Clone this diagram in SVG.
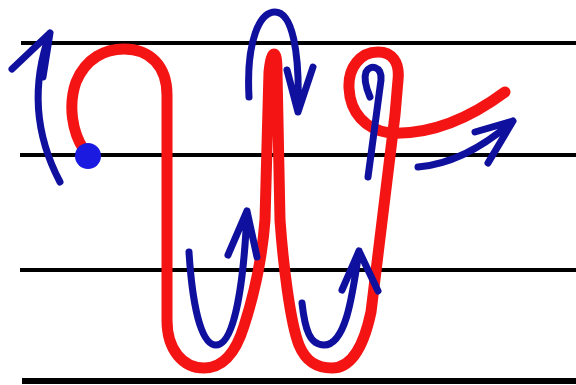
<svg xmlns="http://www.w3.org/2000/svg" width="576" height="385" viewBox="0 0 576 385">
<style>
.rule{stroke:#000;stroke-width:4;fill:none}
.red{stroke:#f41414;stroke-width:11;fill:none;stroke-linecap:round;stroke-linejoin:round}
.blue{stroke:#10109e;stroke-width:7;fill:none;stroke-linecap:round;stroke-linejoin:round}
</style>
<rect width="576" height="385" fill="#fff"/>
<g id="rules">
<line class="rule" x1="21" y1="43" x2="576" y2="43"/>
<line class="rule" x1="20" y1="155" x2="576" y2="155"/>
<line class="rule" x1="20" y1="270" x2="576" y2="270"/>
<line class="rule" x1="22" y1="381" x2="576" y2="381" style="stroke-width:6"/>
</g>
<g id="letter">
<path class="red" d="M84,150 C72,132 68,105 76,82 C86,58 105,49 124,49 C150,49 167,66 167,95 L167,320 C167,350 183,368 204,368 C224,368 236,352 244,326 C254,295 262,260 265,220 L269,72 Q271,54 274,54 Q277,54 277,72 L280,220 C283,262 290,322 299,345 C306,362 317,368 332,368 C352,368 364,345 371,312 L395,115 L398,80 C400,62 392,52 378,52 C360,52 348,68 349,88 C350,112 365,130 390,133 C430,135 470,118 505,92"/>
<circle id="start-dot" cx="88" cy="156" r="13" fill="#1a1ae0"/>
</g>
<g id="arrows">
<path class="blue" d="M60,182 Q22,110 50,33 M12,69 L50,33 L43,77"/>
<path class="blue" d="M249,97 C246,40 260,12 275,12 C292,12 300,50 298,112 M287,70 L298,112 L313,67"/>
<path class="blue" d="M368,177 L381,80 C382,66 370,64 366,72 C363,80 367,90 370,97"/>
<path class="blue" d="M418,167 Q465,163 513,121 M475,132 L513,121 L488,163"/>
<path class="blue" d="M189,252 C192,300 200,345 216,345 C235,345 244,280 247,211 M228,255 L247,211 L257,257"/>
<path class="blue" d="M302,303 C305,330 310,345 324,345 C345,345 352,300 359,251 M342,290 L359,251 L378,291"/>
</g>
</svg>
